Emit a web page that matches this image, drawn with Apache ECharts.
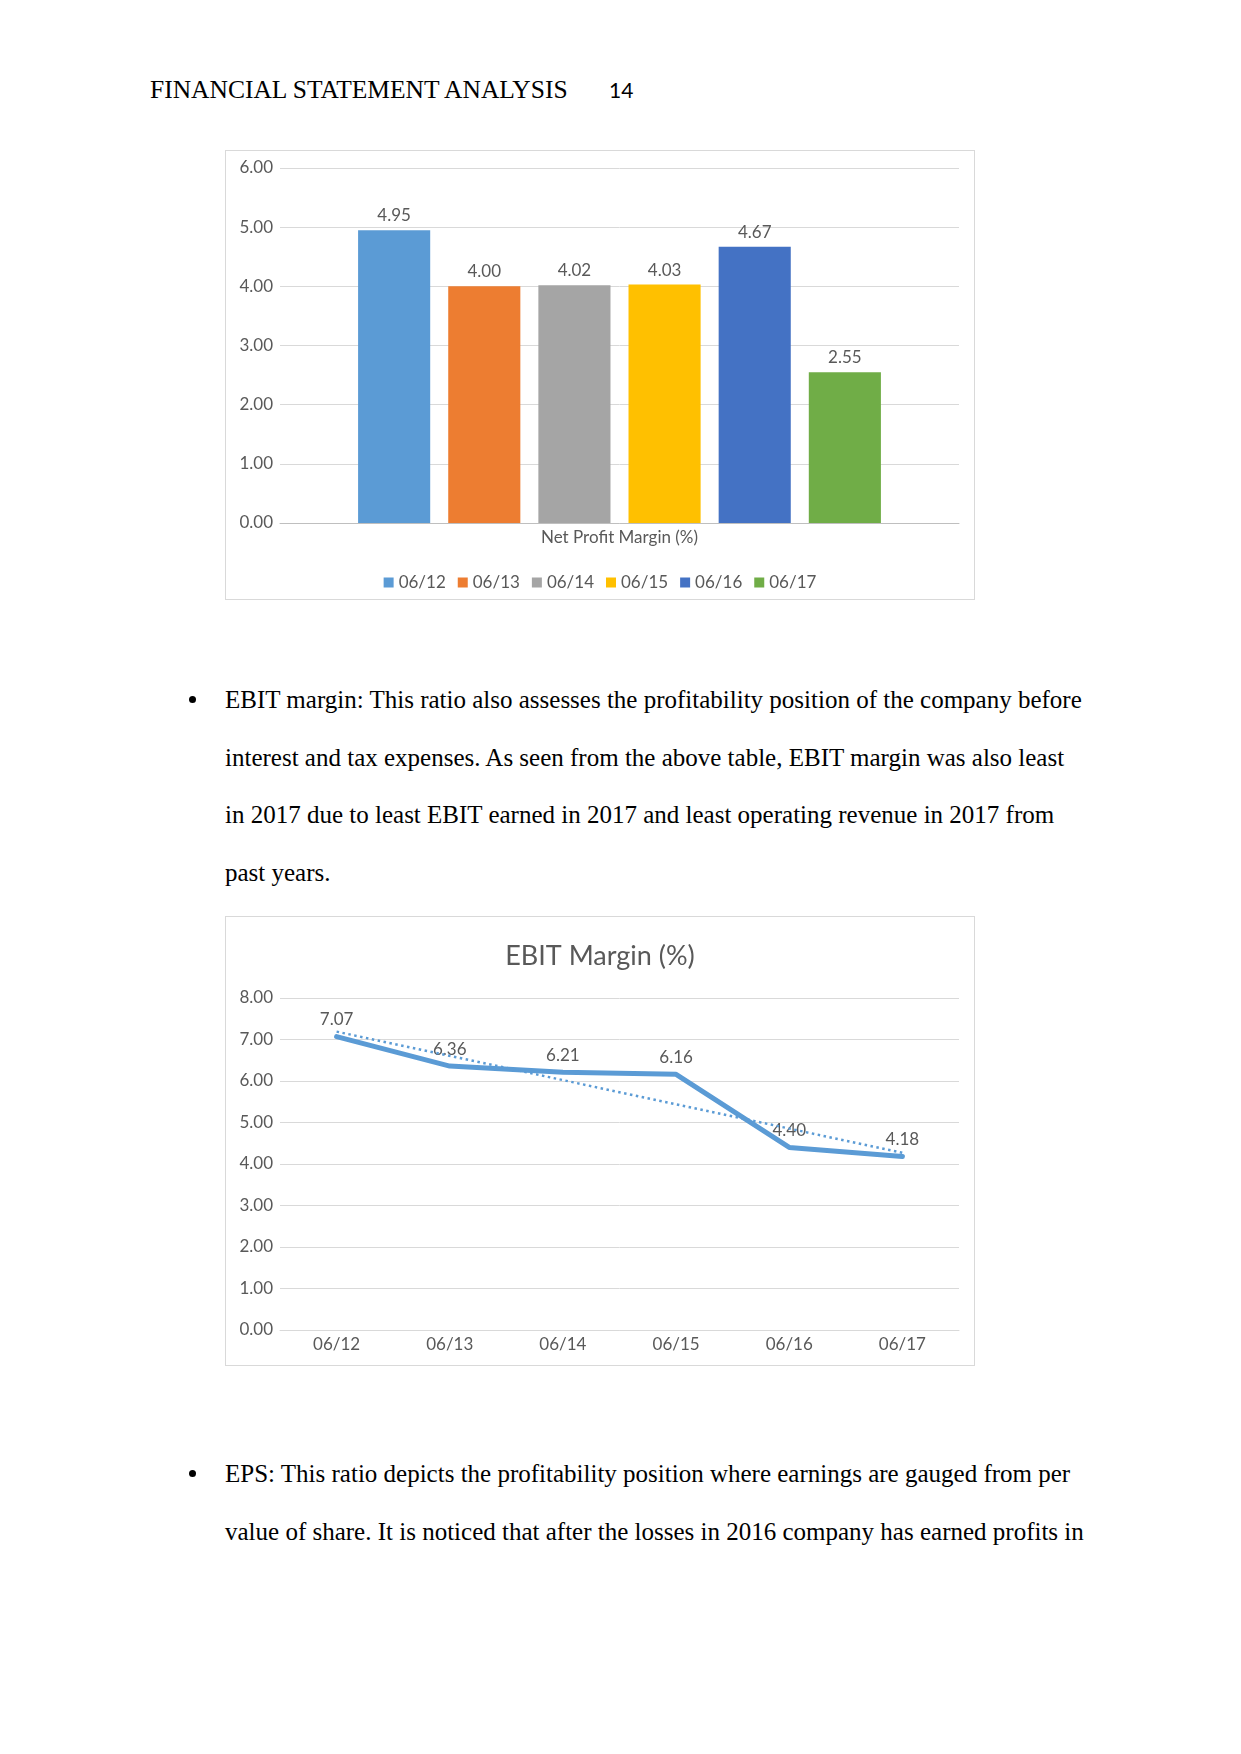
<!DOCTYPE html>
<html>
<head>
<meta charset="utf-8">
<script src="https://cdn.jsdelivr.net/npm/echarts@6/dist/echarts.min.js"></script>
<style>
  html, body { margin: 0; padding: 0; background: #fff; }
  body { width: 1241px; height: 1754px; position: relative; overflow: hidden; }
  .serif { font-family: "Liberation Serif", "Times New Roman", serif; font-size: 25px; color: #000; position: absolute; white-space: nowrap; }
  .para { line-height: 57.5px; }
  .pnum { position: absolute; font-family: Lato, "Open Sans", sans-serif; font-size: 21px; color: #000; white-space: nowrap; line-height: 28px; }
  .chartbox { position: absolute; border: 1px solid #d9d9d9; box-sizing: border-box; }
  .bullet { position: absolute; width: 7px; height: 7px; border-radius: 50%; background: #000; }
</style>
</head>
<body>
<div class="serif" style="left:150px; top:76px; line-height:28px; font-size:25.5px;">FINANCIAL STATEMENT ANALYSIS</div>
<div class="pnum" style="left:609px; top:76px;">14</div>

<div id="c1" class="chartbox" style="left:225px; top:150px; width:750px; height:450px;"></div>

<div class="bullet" style="left:189px; top:696px;"></div>
<div class="serif para" style="left:225px; top:671px;">EBIT margin: This ratio also assesses the profitability position of the company before<br>interest and tax expenses. As seen from the above table, EBIT margin was also least<br>in 2017 due to least EBIT earned in 2017 and least operating revenue in 2017 from<br>past years.</div>

<div id="c2" class="chartbox" style="left:225px; top:916px; width:750px; height:450px;"></div>

<div class="bullet" style="left:189px; top:1470px;"></div>
<div class="serif para" style="left:225px; top:1445px;">EPS: This ratio depicts the profitability position where earnings are gauged from per<br>value of share. It is noticed that after the losses in 2016 company has earned profits in</div>

<script>
// ---- Data ----
const years = ['06/12', '06/13', '06/14', '06/15', '06/16', '06/17'];
const npmCategory = ['Net Profit Margin (%)'];
const netProfitMargin = [4.95, 4.00, 4.02, 4.03, 4.67, 2.55];
const ebitMargin = [7.07, 6.36, 6.21, 6.16, 4.40, 4.18];
const ebitTrendEnds = [7.19, 4.27]; // linear trendline end values
const npmTicks = { min: 0, max: 6, interval: 1 };
const ebitTicks = { min: 0, max: 8, interval: 1 };

// ---- Styles ----
const barColors = ['#5b9bd5', '#ed7d31', '#a5a5a5', '#ffc000', '#4472c4', '#70ad47'];
const FONT = 'Lato, "Open Sans", sans-serif';
const GRAY = '#595959';
const FS = 17;

// ---- Chart 1: Net profit margin ----
const c1 = echarts.init(document.getElementById('c1'), null, { renderer: 'canvas' });
c1.setOption({
  animation: false,
  textStyle: { fontFamily: FONT },
  grid: { left: 54, right: 15, top: 17, bottom: 76 },
  legend: {
    bottom: 3, left: 'center',
    itemWidth: 10, itemHeight: 10, itemGap: 12, icon: 'rect',
    textStyle: { color: GRAY, fontSize: FS, fontFamily: FONT },
    data: years
  },
  xAxis: {
    type: 'category', data: npmCategory,
    axisLine: { lineStyle: { color: '#bfbfbf', width: 1 } },
    axisTick: { show: false },
    axisLabel: { color: GRAY, fontSize: FS, margin: 6, fontFamily: FONT }
  },
  yAxis: {
    type: 'value', min: npmTicks.min, max: npmTicks.max, interval: npmTicks.interval,
    axisLine: { show: false }, axisTick: { show: false },
    splitLine: { lineStyle: { color: '#d9d9d9', width: 1 } },
    axisLabel: { color: GRAY, fontSize: FS, margin: 7, fontFamily: FONT, formatter: v => v.toFixed(2) }
  },
  series: years.map((y, i) => ({
    name: y, type: 'bar',
    data: [netProfitMargin[i]],
    barGap: '25%', barCategoryGap: '23%',
    itemStyle: { color: barColors[i] },
    label: { show: true, position: 'top', distance: 6, color: GRAY, fontSize: FS, fontFamily: FONT, formatter: p => p.value.toFixed(2) }
  }))
});

// ---- Chart 2: EBIT margin ----
const c2 = echarts.init(document.getElementById('c2'), null, { renderer: 'canvas' });
c2.setOption({
  animation: false,
  textStyle: { fontFamily: FONT },
  title: {
    text: 'EBIT Margin (%)', left: 'center', top: 21,
    textStyle: { color: GRAY, fontSize: 27, fontWeight: 'normal', fontFamily: FONT }
  },
  grid: { left: 54, right: 15, top: 81, bottom: 35 },
  xAxis: {
    type: 'category', data: years, boundaryGap: true,
    axisLine: { lineStyle: { color: '#d9d9d9', width: 1 } },
    axisTick: { show: false },
    axisLabel: { color: GRAY, fontSize: FS, margin: 6, fontFamily: FONT }
  },
  yAxis: {
    type: 'value', min: ebitTicks.min, max: ebitTicks.max, interval: ebitTicks.interval,
    axisLine: { show: false }, axisTick: { show: false },
    splitLine: { lineStyle: { color: '#d9d9d9', width: 1 } },
    axisLabel: { color: GRAY, fontSize: FS, margin: 7, fontFamily: FONT, formatter: v => v.toFixed(2) }
  },
  series: [
    {
      name: 'EBIT Margin (%)', type: 'line', data: ebitMargin,
      symbol: 'circle', symbolSize: 1, showSymbol: true, z: 3,
      lineStyle: { color: '#5b9bd5', width: 5, cap: 'round', join: 'round' },
      itemStyle: { color: '#5b9bd5' },
      label: { show: true, position: 'top', distance: 8, color: GRAY, fontSize: FS, fontFamily: FONT, formatter: p => p.value.toFixed(2) }
    },
    {
      name: 'Linear trend', type: 'line',
      data: [[years[0], ebitTrendEnds[0]], [years[years.length - 1], ebitTrendEnds[1]]],
      symbol: 'none', z: 4,
      lineStyle: { color: '#5b9bd5', width: 2.5, type: [2.5, 3.5], cap: 'butt' }
    }
  ]
});
</script>
</body>
</html>
